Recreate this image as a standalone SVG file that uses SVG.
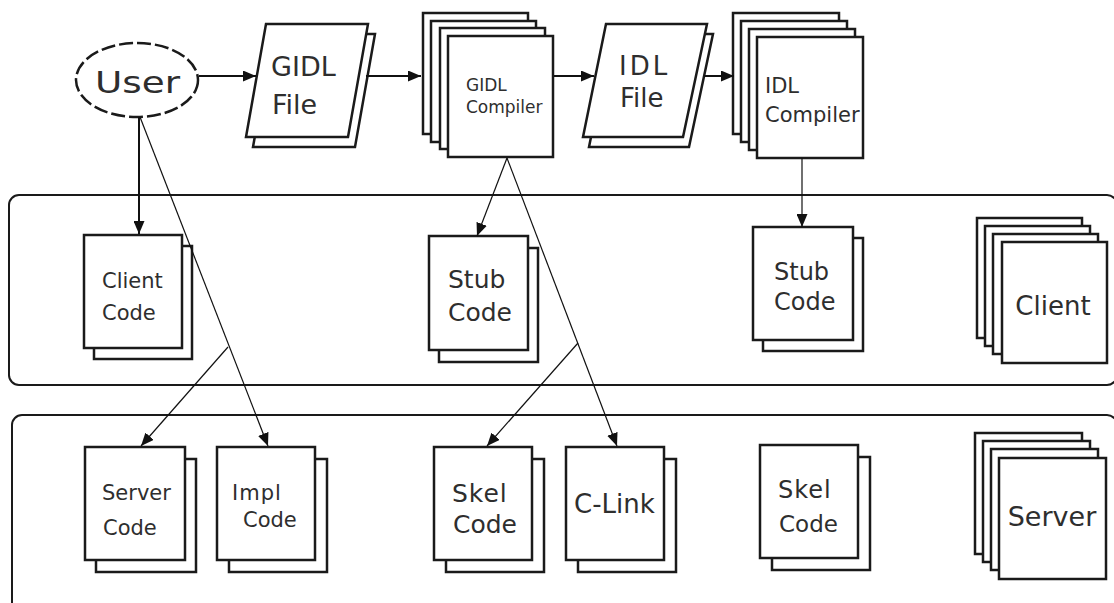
<svg xmlns="http://www.w3.org/2000/svg" width="1114" height="603" viewBox="0 0 1114 603">
<style>
.panel{fill:none;stroke:#1a1a1a;stroke-width:2}
.box{fill:#fff;stroke:#1a1a1a;stroke-width:2.5}
.t{font-family:"DejaVu Sans","Verdana",sans-serif;fill:#2e2e2e}
.c{stroke:#111;stroke-width:2;fill:none}
.thin{stroke:#111;stroke-width:1.2;fill:none}
</style>
<defs>
<marker id="ah" markerUnits="userSpaceOnUse" markerWidth="13" markerHeight="11" refX="13" refY="5.5" orient="auto">
<path d="M0,0 L13,5.5 L0,11 z" fill="#111"/>
</marker>
</defs>
<rect class="panel" x="9" y="195" width="1108" height="190" rx="10"/>
<rect class="panel" x="12" y="415" width="1105" height="220" rx="10"/>

<g id="user">
<ellipse cx="137" cy="80" rx="61" ry="37" fill="#fff" stroke="#1a1a1a" stroke-width="2.5" stroke-dasharray="14 4"/>
<text class="t" x="95" y="93" font-size="30" textLength="85" lengthAdjust="spacingAndGlyphs">User</text>
</g>

<g id="gidl-file">
<path class="box" d="M273,34 L375,34 L355,147 L253,147 Z"/>
<path class="box" d="M266,24 L368,24 L348,137 L246,137 Z"/>
<text class="t" x="271" y="76" font-size="27">GIDL</text>
<text class="t" x="272" y="114" font-size="27">File</text>
</g>

<g id="gidl-compiler">
<rect class="box" x="423" y="13" width="105" height="121"/>
<rect class="box" x="431" y="21" width="105" height="121"/>
<rect class="box" x="440" y="28" width="105" height="121"/>
<rect class="box" x="448" y="36" width="105" height="121"/>
<text class="t" x="466" y="91" font-size="17">GIDL</text>
<text class="t" x="466" y="113" font-size="17">Compiler</text>
</g>

<g id="idl-file">
<path class="box" d="M612,34 L713,34 L689,147 L589,147 Z"/>
<path class="box" d="M606,24 L707,24 L683,137 L583,137 Z"/>
<text class="t" x="619" y="75" font-size="26" letter-spacing="3">IDL</text>
<text class="t" x="620" y="107" font-size="26">File</text>
</g>

<g id="idl-compiler">
<rect class="box" x="733" y="13" width="106" height="121"/>
<rect class="box" x="741" y="21" width="106" height="121"/>
<rect class="box" x="749" y="29" width="106" height="121"/>
<rect class="box" x="757" y="37" width="106" height="121"/>
<text class="t" x="765" y="93" font-size="21">IDL</text>
<text class="t" x="765" y="122" font-size="21">Compiler</text>
</g>

<g id="client-code">
<rect class="box" x="94" y="246" width="98" height="113"/>
<rect class="box" x="84" y="235" width="98" height="113"/>
<text class="t" x="102" y="288" font-size="21">Client</text>
<text class="t" x="102" y="320" font-size="21">Code</text>
</g>

<g id="stub-code-1">
<rect class="box" x="439" y="248" width="99" height="114"/>
<rect class="box" x="429" y="236" width="99" height="114"/>
<text class="t" x="448" y="288" font-size="25">Stub</text>
<text class="t" x="448" y="321" font-size="25">Code</text>
</g>

<g id="stub-code-2">
<rect class="box" x="763" y="238" width="100" height="113"/>
<rect class="box" x="753" y="227" width="100" height="113"/>
<text class="t" x="774" y="280" font-size="24">Stub</text>
<text class="t" x="774" y="310" font-size="24">Code</text>
</g>

<g id="client">
<rect class="box" x="977" y="218" width="105" height="120"/>
<rect class="box" x="985" y="226" width="105" height="120"/>
<rect class="box" x="993" y="234" width="105" height="120"/>
<rect class="box" x="1002" y="242" width="105" height="121"/>
<text class="t" x="1053" y="315" font-size="26" text-anchor="middle">Client</text>
</g>

<g id="server-code">
<rect class="box" x="96" y="459" width="100" height="113"/>
<rect class="box" x="85" y="447" width="100" height="113"/>
<text class="t" x="102" y="500" font-size="21">Server</text>
<text class="t" x="103" y="535" font-size="21">Code</text>
</g>

<g id="impl-code">
<rect class="box" x="229" y="459" width="98" height="113"/>
<rect class="box" x="217" y="447" width="98" height="113"/>
<text class="t" x="232" y="500" font-size="21" letter-spacing="1">Impl</text>
<text class="t" x="243" y="527" font-size="21">Code</text>
</g>

<g id="skel-code-1">
<rect class="box" x="446" y="459" width="98" height="113"/>
<rect class="box" x="434" y="447" width="98" height="113"/>
<text class="t" x="452" y="502" font-size="25" letter-spacing="1">Skel</text>
<text class="t" x="453" y="533" font-size="25">Code</text>
</g>

<g id="c-link">
<rect class="box" x="578" y="459" width="98" height="113"/>
<rect class="box" x="566" y="447" width="98" height="113"/>
<text class="t" x="574" y="513" font-size="26">C-Link</text>
</g>

<g id="skel-code-2">
<rect class="box" x="772" y="457" width="98" height="113"/>
<rect class="box" x="760" y="445" width="98" height="113"/>
<text class="t" x="778" y="498" font-size="24" letter-spacing="1">Skel</text>
<text class="t" x="779" y="532" font-size="23">Code</text>
</g>

<g id="server">
<rect class="box" x="975" y="433" width="107" height="121"/>
<rect class="box" x="983" y="441" width="107" height="121"/>
<rect class="box" x="991" y="449" width="107" height="121"/>
<rect class="box" x="999" y="458" width="107" height="121"/>
<text class="t" x="1052" y="526" font-size="27" text-anchor="middle">Server</text>
</g>

<g id="connectors">
<line class="c" x1="199" y1="76" x2="256" y2="76" marker-end="url(#ah)"/>
<line class="c" x1="366" y1="76" x2="421" y2="76" marker-end="url(#ah)"/>
<line class="c" x1="554" y1="76" x2="594" y2="76" marker-end="url(#ah)"/>
<line class="c" x1="704" y1="76" x2="734" y2="76" marker-end="url(#ah)"/>
<line class="thin" x1="802" y1="158" x2="802" y2="227" marker-end="url(#ah)"/>
<line class="c" x1="139" y1="117" x2="139" y2="234" marker-end="url(#ah)"/>
<line class="thin" x1="140" y1="117" x2="268" y2="446" marker-end="url(#ah)"/>
<line class="thin" x1="228" y1="347" x2="141" y2="446" marker-end="url(#ah)"/>
<line class="thin" x1="507" y1="158" x2="477" y2="236" marker-end="url(#ah)"/>
<line class="thin" x1="507" y1="158" x2="617" y2="446" marker-end="url(#ah)"/>
<line class="thin" x1="578" y1="343" x2="487" y2="446" marker-end="url(#ah)"/>
</g>
</svg>
